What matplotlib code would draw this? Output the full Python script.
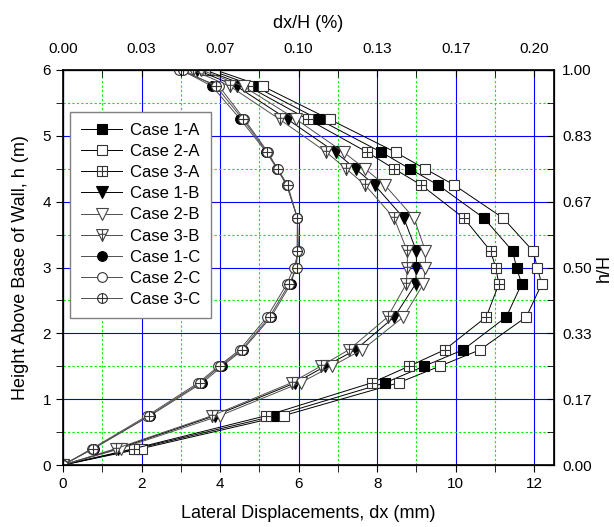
import matplotlib
matplotlib.use("Agg")
import matplotlib.pyplot as plt
from matplotlib.path import Path
import numpy as np

plt.rcParams['font.family'] = ['Liberation Sans', 'DejaVu Sans']

# heights above base of wall (m)
heights = [0, 0.25, 0.75, 1.25, 1.5, 1.75, 2.25, 2.75, 3.0, 3.25, 3.75, 4.25, 4.5, 4.75, 5.25, 5.75, 6.0]

# lateral displacements dx (mm)
case_1A = [0, 1.89, 5.41, 8.21, 9.19, 10.19, 11.29, 11.68, 11.55, 11.45, 10.72, 9.56, 8.83, 8.11, 6.51, 4.89, 3.75]
case_2A = [0, 2.00, 5.62, 8.55, 9.59, 10.62, 11.80, 12.19, 12.08, 11.97, 11.21, 9.97, 9.22, 8.47, 6.79, 5.10, 3.88]
case_3A = [0, 1.81, 5.18, 7.87, 8.81, 9.72, 10.78, 11.10, 11.02, 10.89, 10.21, 9.13, 8.43, 7.75, 6.24, 4.72, 3.62]
case_1B = [0, 1.40, 3.87, 5.92, 6.68, 7.45, 8.44, 8.98, 9.00, 9.00, 8.68, 7.94, 7.45, 6.94, 5.72, 4.43, 3.42]
case_2B = [0, 1.47, 4.00, 6.05, 6.84, 7.62, 8.67, 9.18, 9.23, 9.23, 8.94, 8.20, 7.69, 7.15, 5.94, 4.60, 3.52]
case_3B = [0, 1.35, 3.80, 5.82, 6.56, 7.28, 8.27, 8.74, 8.77, 8.77, 8.43, 7.70, 7.21, 6.71, 5.52, 4.26, 3.30]
case_1C = [0, 0.78, 2.22, 3.55, 4.05, 4.58, 5.30, 5.80, 5.93, 5.98, 5.97, 5.70, 5.45, 5.18, 4.52, 3.80, 3.02]
case_2C = [0, 0.74, 2.15, 3.45, 3.96, 4.50, 5.20, 5.70, 5.88, 6.00, 5.97, 5.70, 5.45, 5.22, 4.62, 3.98, 2.95]
case_3C = [0, 0.77, 2.20, 3.50, 4.00, 4.55, 5.26, 5.76, 5.95, 5.96, 5.97, 5.72, 5.47, 5.20, 4.58, 3.90, 3.05]

case_names = ['Case 1-A', 'Case 2-A', 'Case 3-A', 'Case 1-B', 'Case 2-B', 'Case 3-B',
              'Case 1-C', 'Case 2-C', 'Case 3-C']

bottom_ticks = [0, 2, 4, 6, 8, 10, 12]
top_labels = ['0.00', '0.03', '0.07', '0.10', '0.13', '0.17', '0.20']
left_ticks = [0, 1, 2, 3, 4, 5, 6]
right_labels = ['0.00', '0.17', '0.33', '0.50', '0.67', '0.83', '1.00']

M, L, C = Path.MOVETO, Path.LINETO, Path.CLOSEPOLY

# square with a cross inside
sq_plus = Path([(-1, -1), (1, -1), (1, 1), (-1, 1), (-1, -1), (0, -1), (0, 1), (-1, 0), (1, 0)],
               [M, L, L, L, C, M, L, M, L])
# triangle down with a cross inside
tri_plus = Path([(-1, 1), (1, 1), (0, -1), (-1, 1), (0, 1), (0, -1), (-0.6, 0.2), (0.6, 0.2)],
                [M, L, L, C, M, L, M, L])
# circle with a cross inside
circ = Path.unit_circle()
circ_plus = Path(np.vstack([circ.vertices, [(0, -1), (0, 1), (-1, 0), (1, 0)]]),
                 np.concatenate([circ.codes, [M, L, M, L]]))

series = [case_1A, case_2A, case_3A, case_1B, case_2B, case_3B, case_1C, case_2C, case_3C]
markers = ['s', 's', sq_plus, 'v', 'v', tri_plus, 'o', 'o', circ_plus]
faces = ['black', 'white', 'white', 'black', 'white', 'white', 'black', 'white', 'white']
sizes = [6.5, 6.5, 6.5, 8.5, 8.5, 8.5, 7, 7, 7]
lcolors = ['black', 'black', 'black', 'black', '#505050', '#505050', '#505050', '#505050', '#505050']
ecolors = ['black', '#333333', '#333333', 'black', '#444444', '#444444', 'black', '#333333', '#333333']

fig = plt.figure(figsize=(6.14, 5.27), dpi=100)
ax = fig.add_axes([0.1026, 0.1176, 0.7994, 0.7496])

for xs, name, mk, fc, ms, lc, ec in zip(series, case_names, markers, faces, sizes, lcolors, ecolors):
    ax.plot(xs, heights, color=lc, lw=0.7, marker=mk, markersize=ms,
            markerfacecolor=fc, markeredgecolor=ec, markeredgewidth=0.8, label=name)

ax.set_xlim(0, 12.5)
ax.set_ylim(0, 6)
ax.set_xticks(bottom_ticks)
ax.set_xticks(np.arange(1, 13, 2), minor=True)
ax.set_yticks(left_ticks)
ax.set_yticks(np.arange(0.5, 6, 1), minor=True)
ax.grid(which='major', color='#0000ff', lw=0.8, ls='-')
ax.grid(which='minor', color='#00ee00', lw=0.8, ls=(0, (2, 2)))
ax.set_axisbelow(True)
ax.tick_params(which='both', direction='out', length=5, labelsize=11, top=False, right=False)

for sp in ax.spines.values():
    sp.set_linewidth(1.2)

ax.set_xlabel('Lateral Displacements, dx (mm)', fontsize=13, labelpad=10)
ax.set_ylabel('Height Above Base of Wall, h (m)', fontsize=13, labelpad=10)

ax_top = ax.twiny()
ax_top.set_xlim(ax.get_xlim())
ax_top.set_xticks(bottom_ticks)
ax_top.set_xticklabels(top_labels)
ax_top.set_xticks(np.arange(1, 13, 2), minor=True)
ax_top.tick_params(which='both', direction='in', length=5, labelsize=11, pad=10)
ax_top.set_xlabel('dx/H (%)', fontsize=13, labelpad=10)

ax_right = ax.twinx()
ax_right.set_ylim(ax.get_ylim())
ax_right.set_yticks(left_ticks)
ax_right.set_yticklabels(right_labels)
ax_right.set_yticks(np.arange(0.5, 6, 1), minor=True)
ax_right.tick_params(which='both', direction='in', length=5, labelsize=11, pad=6)
ax_right.set_ylabel('h/H', fontsize=13, labelpad=3)

leg = ax.legend(loc='upper left', bbox_to_anchor=(0.014, 0.894), borderaxespad=0, fontsize=12,
                handlelength=2.5, labelspacing=0.37, borderpad=0.65, handletextpad=0.45,
                fancybox=False, framealpha=1, edgecolor='#808080')
leg.get_frame().set_linewidth(1.0)

fig.savefig('out.png', dpi=100)
